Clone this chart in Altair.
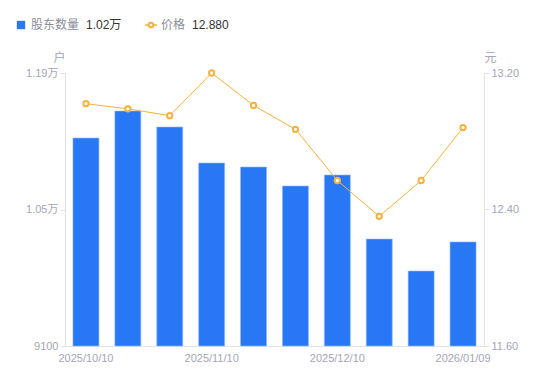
import altair as alt
import pandas as pd

dates = ["2025/10/10", "2025/10/20", "2025/10/31", "2025/11/10", "2025/11/20",
         "2025/11/30", "2025/12/10", "2025/12/20", "2025/12/31", "2026/01/09"]
holders = [11233, 11510, 11346, 10977, 10936, 10741, 10854, 10197, 9869, 10167]
prices = [13.02, 12.99, 12.95, 13.20, 13.01, 12.87, 12.57, 12.36, 12.57, 12.88]
shown_labels = ["2025/10/10", "2025/11/10", "2025/12/10", "2026/01/09"]
left_ticks = [9100, 10500, 11900]
right_ticks = [11.6, 12.4, 13.2]

df = pd.DataFrame({"date": dates, "holders": holders, "price": prices})

FONT = "Liberation Sans, Noto Sans CJK SC, sans-serif"
BLUE = "#2878F5"
ORANGE = "#F8B13C"
AXIS_GRAY = "#E3E3E6"
LABEL_GRAY = "#A3A6B4"

label_expr = "indexof(" + str(shown_labels) + ", datum.value) >= 0 ? datum.value : ''"

x = alt.X("date:N", sort=dates,
          scale=alt.Scale(paddingInner=0.38, paddingOuter=0.19),
          axis=alt.Axis(title=None, labelAngle=0, labelExpr=label_expr, ticks=False,
                        domainColor=AXIS_GRAY, labelColor=LABEL_GRAY, labelFontSize=11,
                        labelFont=FONT, labelPadding=6))

bars = alt.Chart(df).mark_bar(color=BLUE, stroke="#8FB8F8", strokeWidth=0.6).encode(
    x=x,
    y=alt.Y("holders:Q", scale=alt.Scale(domain=[9100, 11900], nice=False, zero=False, clamp=True),
            axis=alt.Axis(values=left_ticks, grid=False, domainColor=AXIS_GRAY,
                          tickColor=AXIS_GRAY, tickSize=5, labelColor=LABEL_GRAY,
                          labelFontSize=11, labelFont=FONT, labelPadding=2,
                          labelExpr="datum.value >= 10000 ? format(datum.value/10000, '.2f') + '万' : format(datum.value, 'd')",
                          title="户", titleAngle=0, titleX=-6, titleY=-16,
                          titleAlign="center", titleBaseline="middle",
                          titleColor=LABEL_GRAY, titleFontWeight="normal",
                          titleFontSize=12, titleFont=FONT))
)

price_scale = alt.Scale(domain=[11.6, 13.2], nice=False, zero=False)

line = alt.Chart(df).mark_line(color=ORANGE, strokeWidth=1).encode(
    x=alt.X("date:N", sort=dates),
    y=alt.Y("price:Q", scale=price_scale,
            axis=alt.Axis(values=right_ticks, format=".2f", grid=False, orient="right",
                          domainColor=AXIS_GRAY, tickColor=AXIS_GRAY, tickSize=5,
                          labelColor=LABEL_GRAY, labelFontSize=11, labelFont=FONT,
                          labelPadding=2, title="元", titleAngle=0, titleX=6, titleY=-16,
                          titleAlign="center", titleBaseline="middle",
                          titleColor=LABEL_GRAY, titleFontWeight="normal",
                          titleFontSize=12, titleFont=FONT))
)
pts = alt.Chart(df).mark_point(shape="circle", filled=False, fill="white", fillOpacity=1,
                                color=ORANGE, strokeWidth=2, size=28, opacity=1).encode(
    x=alt.X("date:N", sort=dates),
    y=alt.Y("price:Q", scale=price_scale, axis=None)
)

# legend (decoration)
LY = -48
leg = pd.DataFrame({"k": [0]})
base = alt.Chart(leg)
sq = base.mark_square(color=BLUE, size=70, opacity=1).encode(x=alt.value(-44), y=alt.value(LY))
t1 = base.mark_text(text="股东数量", align="left", baseline="middle", fontSize=12,
                    font=FONT, color="#8A8D99").encode(x=alt.value(-34), y=alt.value(LY))
t2 = base.mark_text(text="1.02万", align="left", baseline="middle", fontSize=12,
                    font=FONT, color="#333333").encode(x=alt.value(21), y=alt.value(LY))
lr = base.mark_rule(color=ORANGE, strokeWidth=1.5).encode(x=alt.value(80), x2=alt.value(92), y=alt.value(LY))
lp = base.mark_point(shape="circle", filled=False, fill="white", fillOpacity=1, color=ORANGE,
                     strokeWidth=2, size=22, opacity=1).encode(x=alt.value(86), y=alt.value(LY))
t3 = base.mark_text(text="价格", align="left", baseline="middle", fontSize=12,
                    font=FONT, color="#8A8D99").encode(x=alt.value(96), y=alt.value(LY))
t4 = base.mark_text(text="12.880", align="left", baseline="middle", fontSize=12,
                    font=FONT, color="#333333").encode(x=alt.value(127), y=alt.value(LY))

chart = alt.layer(bars, line, pts, sq, t1, t2, lr, lp, t3, t4).resolve_scale(y="independent").properties(
    width=419, height=273,
    autosize=alt.AutoSizeParams(type="none"),
    padding={"left": 57, "top": 65, "right": 58, "bottom": 27},
).configure_view(stroke=None)

chart.save("out.html", embed_options={"renderer": "svg", "actions": False})
